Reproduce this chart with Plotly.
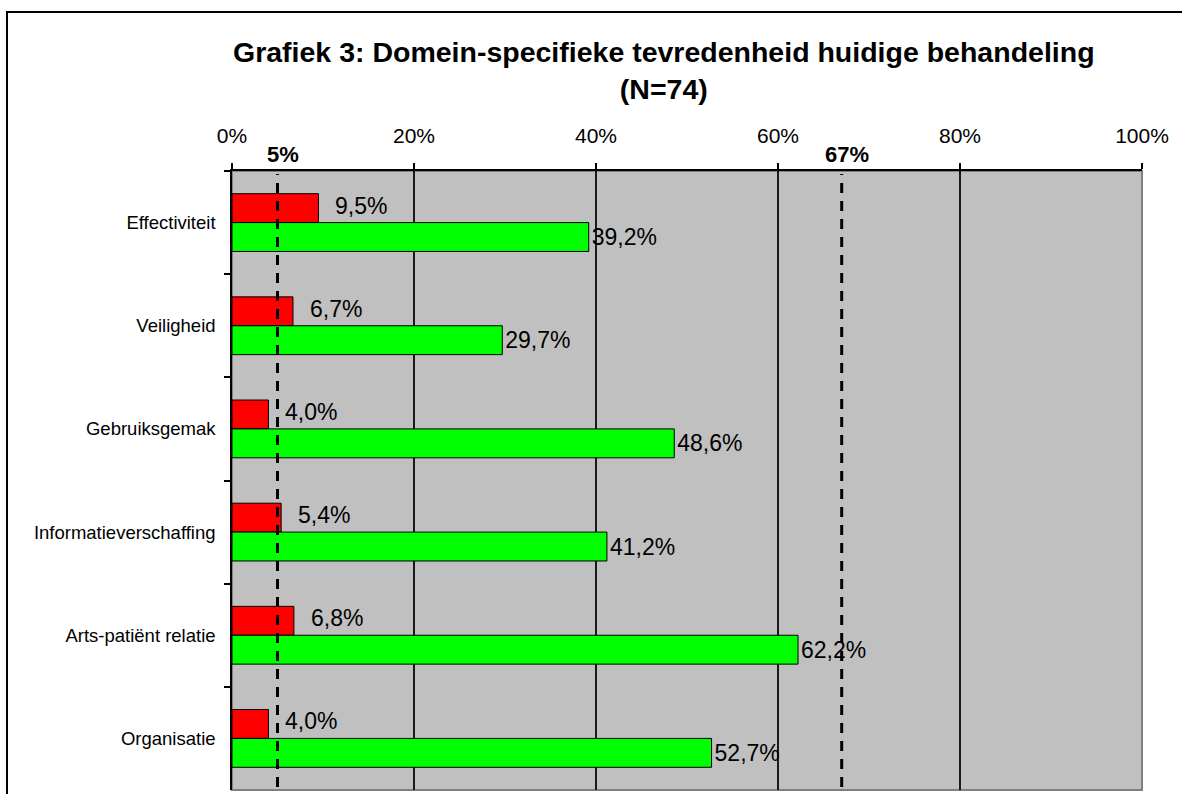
import plotly.graph_objects as go

categories = ["Effectiviteit", "Veiligheid", "Gebruiksgemak", "Informatieverschaffing",
              "Arts-patiënt relatie", "Organisatie"]
red_values = [9.5, 6.7, 4.0, 5.4, 6.8, 4.0]
green_values = [39.2, 29.7, 48.6, 41.2, 62.2, 52.7]
x_ticks = [0, 20, 40, 60, 80, 100]
x_tick_labels = ["0%", "20%", "40%", "60%", "80%", "100%"]
ref_lines = [5, 67]
ref_labels = ["5%", "67%"]
title_lines = ["Grafiek 3: Domein-specifieke tevredenheid huidige behandeling", "(N=74)"]

FONT = "Liberation Sans, Arial, sans-serif"

def fmt(v):
    return f"{v:.1f}%".replace(".", ",")

W, H = 1182, 794
L, R, T, B = 232, 40, 171, 4
pw, ph = W - L - R, H - T - B
px = lambda p: (p - L) / pw
py = lambda p: (H - B - p) / ph

fig = go.Figure()
fig.add_trace(go.Bar(
    y=categories, x=red_values, orientation="h", name="red",
    marker=dict(color="#FF0000", line=dict(color="black", width=1)),
    hoverinfo="skip",
))
fig.add_trace(go.Bar(
    y=categories, x=green_values, orientation="h", name="green",
    marker=dict(color="#00FF00", line=dict(color="black", width=1)),
    text=[fmt(v) for v in green_values], textposition="outside",
    textfont=dict(family=FONT, size=23, color="black"),
    cliponaxis=False, hoverinfo="skip",
))

annotations = []
for c, v in zip(categories, red_values):
    annotations.append(dict(x=v, y=c, xref="x", yref="y", text=fmt(v), showarrow=False,
                            xanchor="left", yanchor="middle", xshift=15, yshift=17,
                            font=dict(family=FONT, size=23, color="black")))
for xv, lab in zip(ref_lines, ref_labels):
    annotations.append(dict(x=xv, y=1, xref="x", yref="paper", text="<b>" + lab + "</b>",
                            showarrow=False, xanchor="center", yanchor="bottom", xshift=5, yshift=2,
                            font=dict(family=FONT, size=22, color="black")))
annotations.append(dict(x=px(664), y=py(34), xref="paper", yref="paper",
                        text="<b>" + "<br>".join(title_lines) + "</b>", showarrow=False,
                        xanchor="center", yanchor="top", align="center",
                        font=dict(family=FONT, size=28.5, color="black")))

shapes = []
shapes.append(dict(type="rect", xref="paper", yref="paper", x0=0, x1=1, y0=0, y1=1,
                   line=dict(color="#808080", width=2), layer="below"))
for xv in ref_lines:
    shapes.append(dict(type="line", xref="x", yref="paper", x0=xv, x1=xv, y0=0.005, y1=0.995,
                       line=dict(color="black", width=3, dash="10px,8px"), layer="above"))
shapes.append(dict(type="rect", xref="paper", yref="paper",
                   x0=px(7), x1=px(1200), y0=py(810), y1=py(12),
                   line=dict(color="black", width=2)))

fig.update_layout(
    width=W, height=H,
    margin=dict(l=L, r=R, t=T, b=B, autoexpand=False),
    paper_bgcolor="white", plot_bgcolor="#C0C0C0",
    barmode="group", bargap=0.44, bargroupgap=0,
    showlegend=False,
    font=dict(family=FONT, color="black"),
    annotations=annotations, shapes=shapes,
    xaxis=dict(range=[0, 100], side="top", tickvals=x_ticks, ticktext=x_tick_labels,
               showgrid=True, gridcolor="#1a1a1a", gridwidth=1.5,
               showline=True, linecolor="black", linewidth=1.5,
               ticks="outside", ticklen=6, tickcolor="black", tickwidth=1.5,
               ticklabelstandoff=12,
               tickfont=dict(family=FONT, size=21, color="black"),
               zeroline=False, fixedrange=True),
    yaxis=dict(autorange="reversed", type="category",
               showline=True, linecolor="black", linewidth=1.5,
               ticks="outside", ticklen=6, tickcolor="black", tickwidth=1.5,
               tickson="boundaries", showgrid=False,
               ticklabelstandoff=11,
               tickfont=dict(family=FONT, size=18.5, color="black"), fixedrange=True),
)

fig.write_html("out.html", config={"displayModeBar": False},
               post_script="document.body.style.margin='0';document.body.style.overflow='hidden';")
